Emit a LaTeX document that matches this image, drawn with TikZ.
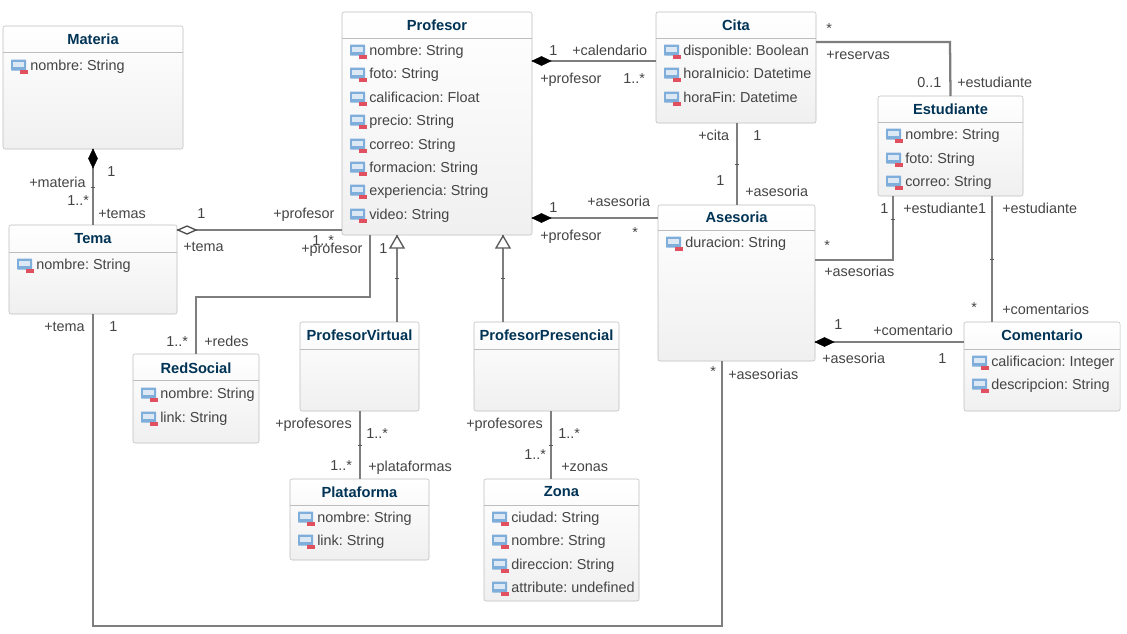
\documentclass[tikz,border=0pt]{standalone}
\usepackage{fontspec}
\setmainfont{Liberation Sans}
\frenchspacing
\definecolor{linea}{HTML}{7E7E7E}
\definecolor{borde}{HTML}{BDBDBD}
\definecolor{titulotxt}{HTML}{003355}
\definecolor{texto}{HTML}{444444}
\definecolor{iconoazul}{HTML}{7FAEDB}
\definecolor{iconoin}{HTML}{DCE9F5}
\definecolor{iconorojo}{HTML}{E0505F}
\tikzset{
  clase/.style 2 args={draw=borde,rounded corners=1.5pt,top color=white,bottom color=black!6,
    minimum width=#1*0.75pt,minimum height=#2*0.75pt,inner sep=0pt,outer sep=0pt},
  titulo/.style={inner sep=0pt,text=titulotxt,font=\fontsize{11}{12}\selectfont\bfseries},
  separa/.style={draw=borde,line width=.6pt},
  attrib/.style={anchor=west,inner sep=0pt,text height=7.6pt,text depth=0pt,text=texto,font=\fontsize{10.8}{12}\selectfont},
  lbl/.style={anchor=west,inner sep=0pt,text height=7.6pt,text depth=0pt,text=texto,font=\fontsize{10.8}{12}\selectfont},
  rel/.style={draw=linea,line width=1.7pt},
  marca/.style={draw=black!65,line width=.7pt},
  rombo/.style={draw=black,fill=black,line width=.4pt},
  romboab/.style={draw=black!70,fill=white,line width=1pt},
  punta/.style={draw=black!65,fill=white,line width=1pt}
}
% attribute row: name, x of icon, y, text
\newcommand{\attr}[4]{
  \fill[rounded corners=.5pt,iconoazul] (#2,#3-5.5) rectangle (#2+15,#3+5.5);
  \fill[iconoin] (#2+2,#3-3.5) rectangle (#2+13,#3+2);
  \fill[iconorojo] (#2+8.5,#3+4.5) rectangle (#2+16.5,#3+8.5);
  \node[attrib] (#1) at (#2+19,#3) {#4};
}
\begin{document}
\begin{tikzpicture}[x=0.75pt,y=-0.75pt]
\useasboundingbox (0,0) rectangle (1127,633);

% boxes
\node[clase={180}{123}] (materia) at (93,87.5) {};
\node[clase={168}{89}] (tema) at (93,269.5) {};
\node[clase={190}{223}] (profesor) at (437,123.5) {};
\node[clase={160}{111}] (cita) at (736,67.5) {};
\node[clase={145}{100}] (estudiante) at (950.5,146) {};
\node[clase={157}{156}] (asesoria) at (736.5,283) {};
\node[clase={156}{89}] (comentario) at (1042,366.5) {};
\node[clase={126}{89}] (redsocial) at (196,398.5) {};
\node[clase={119}{89}] (virtual) at (359.5,366.5) {};
\node[clase={145}{89}] (presencial) at (546.5,366.5) {};
\node[clase={139}{81}] (plataforma) at (359.5,519.5) {};
\node[clase={155}{122}] (zona) at (561.5,540) {};

% connectors
\draw[rel] (materia.south) -- (tema.north);
\draw[rel] (tema.east |- 0,230) -- (profesor.west |- 0,230);
\draw[rel] (tema.south) -- (93,626) -- (722,626) -- (asesoria.south -| 722,0);
\draw[rel] (profesor.south -| 370,0) -- (370,297) -- (196,297) -- (redsocial.north);
\draw[rel] (virtual.north -| 397,0) -- (profesor.south -| 397,0);
\draw[rel] (presencial.north -| 503,0) -- (profesor.south -| 503,0);
\draw[rel] (virtual.south -| 360,0) -- (plataforma.north -| 360,0);
\draw[rel] (presencial.south -| 551,0) -- (zona.north -| 551,0);
\draw[rel] (profesor.east |- 0,61) -- (cita.west |- 0,61);
\draw[rel] (profesor.east |- 0,218) -- (asesoria.west |- 0,218);
\draw[rel] (cita.south -| 737,0) -- (asesoria.north -| 737,0);
\draw[rel] (cita.east |- 0,42) -- (950,42) -- (estudiante.north);
\draw[rel] (estudiante.south -| 893,0) -- (893,260) -- (asesoria.east |- 0,260);
\draw[rel] (estudiante.south -| 992,0) -- (comentario.north -| 992,0);
\draw[rel] (asesoria.east |- 0,342) -- (comentario.west |- 0,342);

% ticks on the lines
\foreach \x/\y in {93/187, 397/278, 503/278, 737/164, 893/219, 992/259, 360/445, 551/445}
  \draw[marca] (\x-2,\y) -- (\x+2,\y);

% diamonds and triangles
\filldraw[rombo] (93,149) -- (97.5,158.5) -- (93,168) -- (88.5,158.5) -- cycle;
\filldraw[rombo] (532,61) -- (541.5,56.5) -- (551,61) -- (541.5,65.5) -- cycle;
\filldraw[rombo] (532,218) -- (541.5,213.5) -- (551,218) -- (541.5,222.5) -- cycle;
\filldraw[rombo] (815,342) -- (824.5,337.5) -- (834,342) -- (824.5,346.5) -- cycle;
\filldraw[romboab] (178,230) -- (187,226) -- (196,230) -- (187,234) -- cycle;
\filldraw[punta] (397,236) -- (404,248) -- (390,248) -- cycle;
\filldraw[punta] (503,236) -- (510,248) -- (496,248) -- cycle;

% titles
\node[titulo] (materiaT) at (93,39) {Materia};
\node[titulo] (temaT) at (93,239) {Tema};
\node[titulo] (profesorT) at (437,25) {Profesor};
\node[titulo] (citaT) at (736,25) {Cita};
\node[titulo] (estudianteT) at (950.5,109) {Estudiante};
\node[titulo] (asesoriaT) at (736.5,217) {Asesoria};
\node[titulo] (comentarioT) at (1042,335) {Comentario};
\node[titulo] (redsocialT) at (196,368) {RedSocial};
\node[titulo] (virtualT) at (359.5,335) {ProfesorVirtual};
\node[titulo] (presencialT) at (546.5,335) {ProfesorPresencial};
\node[titulo] (plataformaT) at (359.5,492) {Plataforma};
\node[titulo] (zonaT) at (561.5,492) {Zona};

% header lines
\draw[separa] (materia.west |- 0,52) -- (materia.east |- 0,52);
\draw[separa] (tema.west |- 0,252) -- (tema.east |- 0,252);
\draw[separa] (profesor.west |- 0,38) -- (profesor.east |- 0,38);
\draw[separa] (cita.west |- 0,38) -- (cita.east |- 0,38);
\draw[separa] (estudiante.west |- 0,122) -- (estudiante.east |- 0,122);
\draw[separa] (asesoria.west |- 0,230) -- (asesoria.east |- 0,230);
\draw[separa] (comentario.west |- 0,349) -- (comentario.east |- 0,349);
\draw[separa] (redsocial.west |- 0,380) -- (redsocial.east |- 0,380);
\draw[separa] (virtual.west |- 0,349) -- (virtual.east |- 0,349);
\draw[separa] (presencial.west |- 0,349) -- (presencial.east |- 0,349);
\draw[separa] (plataforma.west |- 0,505) -- (plataforma.east |- 0,505);
\draw[separa] (zona.west |- 0,505) -- (zona.east |- 0,505);

% attributes
\attr{materiaA}{11}{65}{nombre: String}
\attr{temaA}{17}{264}{nombre: String}
\attr{profA}{350}{50}{nombre: String}
\attr{profB}{350}{73}{foto: String}
\attr{profC}{350}{97}{calificacion: Float}
\attr{profD}{350}{120}{precio: String}
\attr{profE}{350}{144}{correo: String}
\attr{profF}{350}{167}{formacion: String}
\attr{profG}{350}{190}{experiencia: String}
\attr{profH}{350}{214}{video: String}
\attr{citaA}{664}{50}{disponible: Boolean}
\attr{citaB}{664}{73}{horaInicio: Datetime}
\attr{citaC}{664}{97}{horaFin: Datetime}
\attr{estA}{886}{134}{nombre: String}
\attr{estB}{886}{158}{foto: String}
\attr{estC}{886}{181}{correo: String}
\attr{aseA}{666}{242}{duracion: String}
\attr{comA}{972}{361}{calificacion: Integer}
\attr{comB}{972}{384}{descripcion: String}
\attr{redA}{141}{393}{nombre: String}
\attr{redB}{141}{417}{link: String}
\attr{plaA}{298}{517}{nombre: String}
\attr{plaB}{298}{540}{link: String}
\attr{zonA}{492}{517}{ciudad: String}
\attr{zonB}{492}{540}{nombre: String}
\attr{zonC}{492}{564}{direccion: String}
\attr{zonD}{492}{587}{attribute: undefined}

% multiplicities and roles
\foreach \x/\y/\t [count=\i] in {
  107/171/1, 29/182/+materia, 67/200/1..*, 98/213/+temas,
  197/213/1, 273/213/+profesor, 183/246/+tema, 312/240/1..*, 301/248/+profesor, 379/248/1,
  549/50/1, 572/50/+calendario, 540/78/+profesor, 623/78/1..*,
  826/28/*, 826/54/+reservas, 917/82/0..1, 957/82/+estudiante,
  698/135/+cita, 753/135/1, 716/180/1, 745/191/+asesoria,
  549/207/1, 587/201/+asesoria, 540/235/+profesor, 632/232/*,
  880/208/1, 903/208/+estudiante1, 1002/208/+estudiante,
  824/245/*, 824/271/+asesorias, 971/307/*, 1002/309/+comentarios,
  834/324/1, 873/330/+comentario, 822/358/+asesoria, 938/358/1,
  710/371/*, 728/374/+asesorias, 44/326/+tema, 109/326/1,
  166/341/1..*, 204/341/+redes,
  275/423/+profesores, 366/433/1..*, 330/465/1..*, 368/466/+plataformas,
  466/423/+profesores, 558/433/1..*, 524/454/1..*, 561/466/+zonas}
  \node[lbl] (lbl\i) at (\x,\y) {\t};
\end{tikzpicture}
\end{document}
